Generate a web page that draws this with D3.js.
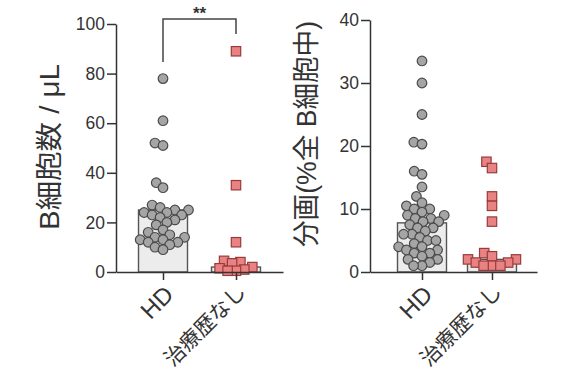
<!DOCTYPE html>
<html>
<head>
<meta charset="utf-8">
<script src="https://cdn.jsdelivr.net/npm/d3@7"></script>
<style>
body { margin: 0; background: #fff; }
text { font-family: "Liberation Sans", Arial, "Noto Sans CJK JP", sans-serif; fill: #333; }
</style>
</head>
<body>
<div id="chart"></div>
<script>
const categories = ["HD", "治療歴なし"];

// B cell count / μL
const countHD = [78, 61, 52, 51, 36, 34, 27, 26, 25, 25, 24, 24, 23, 23, 22, 21, 20, 19, 17, 16, 15, 14, 14, 13, 13, 12, 12, 11, 10, 9];
const countNaive = [89, 35, 12, 4.5, 4, 3.5, 2, 1.5, 1, 0.5, 0.5];
const countBars = [25, 2];

// fraction (% of all B cells)
const fracHD = [33.5, 30, 25, 20.6, 20.3, 16, 15.5, 13.5, 12, 11, 10.5, 10, 10, 9.5, 9, 9, 8.5, 8.5, 8, 8, 7.5, 7, 7, 6.5, 6, 6, 5.5, 5, 5, 4.5, 4, 4, 3.5, 3.5, 3, 3, 2.5, 2, 2, 1.5, 1, 1];
const fracNaive = [17.5, 16.5, 12, 10.5, 8, 3, 2.5, 2, 2, 1.5, 1.5, 1, 1, 1];
const fracBars = [7.8, 2];

const W = 577, H = 375;
const svg = d3.select("#chart").append("svg")
    .attr("width", W).attr("height", H);

// simple beeswarm: returns x offsets for each point
function swarm(ys, d) {
    let idx = ys.map((y, i) => i).sort((a, b) => ys[b] - ys[a]);
    let placed = [];
    let xs = new Array(ys.length);
    idx.forEach(i => {
        let y = ys[i];
        let near = placed.filter(p => Math.abs(p.y - y) < d);
        let cands = [0];
        near.forEach(p => {
            let w = Math.sqrt(d * d - (p.y - y) * (p.y - y));
            cands.push(p.x - w, p.x + w);
        });
        cands.sort((a, b) => Math.abs(a) - Math.abs(b));
        let x = cands.find(c => near.every(p => Math.hypot(p.x - c, p.y - y) >= d - 0.01));
        xs[i] = x;
        placed.push({ x: x, y: y });
    });
    return xs;
}

function panel(opt) {
    const g = svg.append("g");
    const y = d3.scaleLinear().domain([0, opt.max]).range([272, opt.top]);
    const x = d3.scalePoint().domain(categories).range([opt.left, opt.right])
        .padding(opt.pad).align(opt.align);
    const bw = 49;

    // bars
    g.selectAll(".bar").data(opt.bars).enter().append("rect")
        .attr("x", (d, i) => x(categories[i]) - bw / 2)
        .attr("y", d => y(d))
        .attr("width", bw)
        .attr("height", d => y(0) - y(d))
        .attr("fill", "#ececec")
        .attr("stroke", "#555")
        .attr("stroke-width", 1.4);

    // HD circles
    let ys1 = opt.hd.map(v => y(v));
    let xs1 = swarm(ys1, 8.4);
    g.selectAll(".c").data(opt.hd).enter().append("circle")
        .attr("cx", (d, i) => x(categories[0]) + xs1[i])
        .attr("cy", d => y(d))
        .attr("r", 4.8)
        .attr("fill", "#a5a5a5")
        .attr("stroke", "#4a4a4a")
        .attr("stroke-width", 1.2);

    // untreated squares
    let ys2 = opt.naive.map(v => y(v));
    let xs2 = swarm(ys2, 8.4);
    g.selectAll(".s").data(opt.naive).enter().append("rect")
        .attr("x", (d, i) => x(categories[1]) + xs2[i] - 4.7)
        .attr("y", d => y(d) - 4.7)
        .attr("width", 9.4).attr("height", 9.4)
        .attr("fill", "#e98282")
        .attr("stroke", "#9a3b3b")
        .attr("stroke-width", 1.2);

    // axes
    const ya = g.append("g").attr("transform", `translate(${opt.left},0)`)
        .call(d3.axisLeft(y).tickValues(opt.ticks).tickSize(9).tickPadding(2).tickSizeOuter(0));
    const xa = g.append("g").attr("transform", `translate(0,272)`)
        .call(d3.axisBottom(x).tickSize(8).tickSizeOuter(0).tickFormat(""));
    [ya, xa].forEach(a => {
        a.select(".domain").attr("stroke", "#333").attr("stroke-width", 1.5);
        a.selectAll(".tick line").attr("stroke", "#333").attr("stroke-width", 1.5);
    });
    ya.selectAll(".tick text").style("font-size", "17.5px").attr("fill", "#333");

    // category labels
    categories.forEach((c, i) => {
        g.append("text")
            .attr("transform", `translate(${x(c) + 6},${290 - (i ? 2 : 0)}) rotate(-45)`)
            .attr("text-anchor", "end")
            .attr("dy", "0.35em")
            .style("font-size", i ? "21px" : "24px")
            .text(c);
    });

    // y title
    g.append("text")
        .attr("transform", `translate(${opt.titleX},${opt.titleY}) rotate(-90)`)
        .attr("text-anchor", "middle")
        .attr("dy", "0.35em")
        .style("font-size", "27px")
        .attr("textLength", opt.titleLen)
        .attr("lengthAdjust", "spacingAndGlyphs")
        .text(opt.title);
    return { x: x, y: y, g: g };
}

const p1 = panel({
    left: 116, right: 283, pad: 0.644, align: 0.5, max: 100, top: 24,
    ticks: [0, 20, 40, 60, 80, 100], bars: countBars, hd: countHD, naive: countNaive,
    title: "B細胞数 / μL", titleX: 50, titleY: 147, titleLen: 166
});
const p2 = panel({
    left: 370, right: 537, pad: 0.693, align: 0.536, max: 40, top: 20,
    ticks: [0, 10, 20, 30, 40], bars: fracBars, hd: fracHD, naive: fracNaive,
    title: "分画(%全 B細胞中)", titleX: 307, titleY: 134, titleLen: 226
});

// significance bracket
const bx1 = p1.x(categories[0]), bx2 = p1.x(categories[1]);
p1.g.append("path")
    .attr("d", `M${bx1},62V19H${bx2}V34`)
    .attr("fill", "none").attr("stroke", "#444").attr("stroke-width", 1.5);
p1.g.append("text")
    .attr("x", (bx1 + bx2) / 2).attr("y", 19)
    .attr("text-anchor", "middle")
    .style("font-size", "17px").style("font-weight", "bold")
    .attr("fill", "#111")
    .text("**");
</script>
</body>
</html>
